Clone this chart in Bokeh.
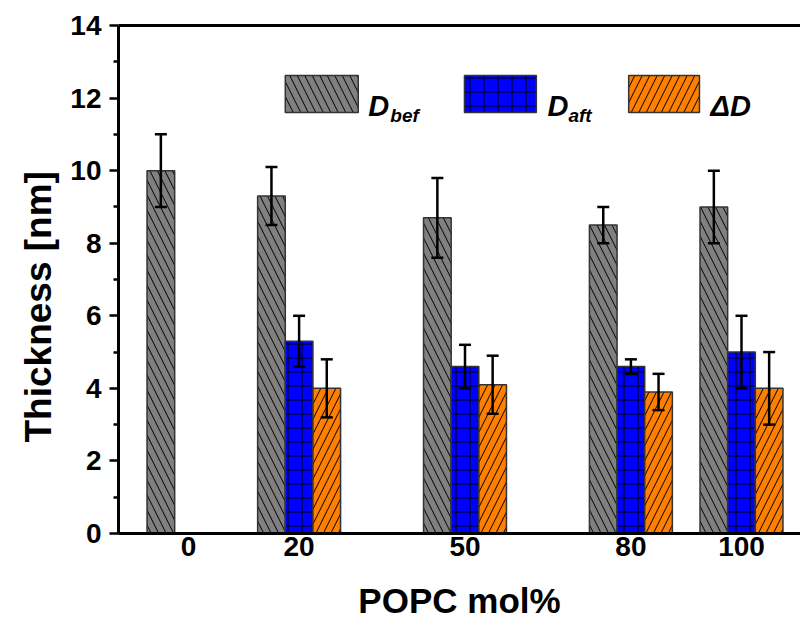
from bokeh.plotting import figure
from bokeh.models import (ColumnDataSource, Range1d, FixedTicker, LinearAxis,
                          Whisker, TeeHead, BoxAnnotation, Label, Title)
from bokeh.embed import file_html
from bokeh.resources import INLINE

# ---- data -------------------------------------------------------------
popc = [0, 20, 50, 80, 100]
tick_labels = ["0", "20", "50", "80", "100"]
d_bef = [10.0, 9.3, 8.7, 8.5, 9.0]
d_bef_err = [1.0, 0.8, 1.1, 0.5, 1.0]
d_aft = [None, 5.3, 4.6, 4.6, 5.0]
d_aft_err = [None, 0.7, 0.6, 0.2, 1.0]
delta_d = [None, 4.0, 4.1, 3.9, 4.0]
delta_d_err = [None, 0.8, 0.8, 0.5, 1.0]
x_title = "POPC mol%"
y_title = "Thickness [nm]"

# ---- styling ----------------------------------------------------------
FONT = "Liberation Sans"
BAR_W = 5.0
OUTLINE = "#333333"
series = [
    (d_bef, d_bef_err, -BAR_W, "#808080", "\\", 15),
    (d_aft, d_aft_err, 0.0, "#0000FF", "+", 14),
    (delta_d, delta_d_err, BAR_W, "#FF8000", "/", 15),
]

p = figure(width=800, height=626, output_backend="svg", toolbar_location=None,
           x_range=Range1d(-12.66, 110.67), y_range=Range1d(0, 14),
           min_border_left=118, min_border_right=0, min_border_top=25,
           min_border_bottom=93)
p.outline_line_color = None
p.xgrid.visible = False
p.ygrid.visible = False
p.background_fill_color = "white"
p.border_fill_color = "white"

for vals, errs, off, color, pat, scale in series:
    xs, tops, ups, lows = [], [], [], []
    for xv, v, e in zip(popc, vals, errs):
        if v is None:
            continue
        xs.append(xv + off)
        tops.append(v)
        ups.append(v + e)
        lows.append(v - e)
    src = ColumnDataSource(dict(x=xs, top=tops, upper=ups, lower=lows))
    p.vbar(x="x", top="top", bottom=0, width=BAR_W, source=src,
           fill_color=color, line_color=OUTLINE, line_width=1.5,
           hatch_pattern=pat, hatch_color="black", hatch_scale=scale,
           hatch_weight=1)
    w = Whisker(base="x", upper="upper", lower="lower", source=src,
                dimension="height", line_color="black", line_width=2.5,
                level="overlay",
                upper_head=TeeHead(size=12, line_width=2.5, line_color="black"),
                lower_head=TeeHead(size=12, line_width=2.5, line_color="black"))
    p.add_layout(w)

# ---- axes -------------------------------------------------------------
xa = p.xaxis[0]
xa.ticker = FixedTicker(ticks=popc)
xa.major_label_overrides = {xv: lab for xv, lab in zip(popc, tick_labels)}
xa.major_tick_line_color = None
xa.minor_tick_line_color = None
xa.major_tick_out = 0
xa.major_tick_in = 0
xa.axis_line_width = 3
xa.axis_line_color = "black"
xa.major_label_text_color = "black"
xa.major_label_text_font = FONT
xa.major_label_text_font_style = "bold"
xa.major_label_text_font_size = "28px"
xa.major_label_standoff = 3
xa.axis_label = x_title
xa.axis_label_text_color = "black"
xa.axis_label_text_font = FONT
xa.axis_label_text_font_style = "bold"
xa.axis_label_text_font_size = "35px"
xa.axis_label_standoff = 22

ya = p.yaxis[0]
ya.ticker = FixedTicker(ticks=[0, 2, 4, 6, 8, 10, 12, 14],
                        minor_ticks=[1, 3, 5, 7, 9, 11, 13])
ya.axis_line_width = 3
ya.axis_line_color = "black"
ya.major_tick_line_color = "black"
ya.minor_tick_line_color = "black"
ya.major_tick_line_width = 2.5
ya.minor_tick_line_width = 2.5
ya.major_tick_out = 9
ya.major_tick_in = 0
ya.minor_tick_out = 5
ya.minor_tick_in = 0
ya.major_label_text_color = "black"
ya.major_label_text_font = FONT
ya.major_label_text_font_style = "bold"
ya.major_label_text_font_size = "28px"
ya.major_label_standoff = 8

# y title is off-centre in the original: place it as a side title
p.add_layout(Title(text=y_title, align="left", offset=91,
                   vertical_align="top",
                   text_font=FONT, text_font_style="bold",
                   text_font_size="37px", text_color="black",
                   standoff=14), "left")

top_axis = LinearAxis(ticker=FixedTicker(ticks=[]), axis_line_width=3,
                      axis_line_color="black",
                      major_tick_line_color=None, minor_tick_line_color=None,
                      major_label_text_font_size="0px")
p.add_layout(top_axis, "above")

# ---- legend (manual, to allow subscripts) -----------------------------
legend_boxes = [
    (17.5, 30.7, "#808080", "\\", 15),
    (49.9, 62.9, "#0000FF", "+", 14),
    (79.6, 92.4, "#FF8000", "/", 15),
]
for left, right, color, pat, scale in legend_boxes:
    p.add_layout(BoxAnnotation(left=left, right=right, top=12.62, bottom=11.6,
                               fill_color=color, fill_alpha=1.0,
                               line_color=OUTLINE, line_alpha=1.0, line_width=1.5,
                               hatch_pattern=pat, hatch_color="black",
                               hatch_alpha=1.0, hatch_scale=scale, hatch_weight=1))

legend_texts = [
    (32.5, 11.79, "D", "29px"),
    (36.5, 11.52, "bef", "19px"),
    (64.9, 11.79, "D", "29px"),
    (68.7, 11.52, "aft", "19px"),
    (94.4, 11.79, "ΔD", "29px"),
]
for lx, ly, txt, size in legend_texts:
    p.add_layout(Label(x=lx, y=ly, text=txt, text_font=FONT,
                       text_font_style="bold italic", text_font_size=size,
                       text_baseline="alphabetic", text_align="left",
                       text_color="black"))

open("out.html", "w").write(file_html(p, INLINE))
